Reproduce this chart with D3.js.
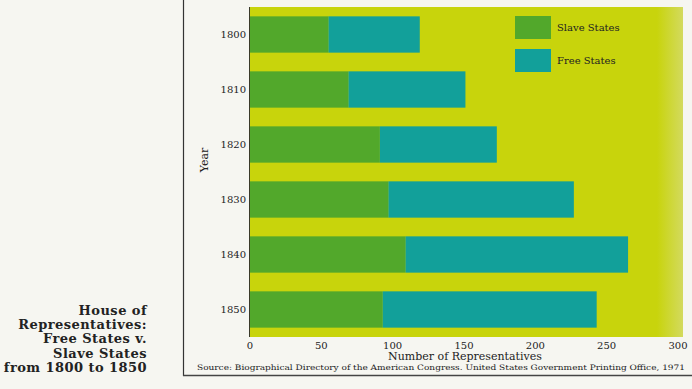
<!DOCTYPE html>
<html>
<head>
<meta charset="utf-8">
<script src="https://cdn.jsdelivr.net/npm/d3@7"></script>
<style>
  body { margin: 0; background: #f6f6f1; }
  svg { display: block; }
  text { font-family: "DejaVu Serif", "Liberation Serif", serif; fill: #222; }
</style>
</head>
<body>
<div id="chart"></div>
<script>
// values
let years = ["1800", "1810", "1820", "1830", "1840", "1850"];
let slaveStates = [55, 69, 91, 97, 109, 93];
let freeStates = [64, 82, 82, 130, 156, 150];
let xTicks = [0, 50, 100, 150, 200, 250, 300];
let titleLines = ["House of", "Representatives:", "Free States v.", "Slave States", "from 1800 to 1850"];

let svgWidth = 692;
let svgHeight = 389;

let colors = {
    bg: "#c8d40c",
    slave: "#52a82b",
    free: "#12a09a"
};

let svg = d3.select("#chart")
    .append("svg")
    .attr("width", svgWidth)
    .attr("height", svgHeight);

// plot area
let plot = { left: 249, right: 683, top: 7, bottom: 337 };

let xScale = d3.scaleLinear()
    .domain([0, 300])
    .range([250, 678]);

let yScale = d3.scaleBand()
    .domain(years)
    .range([plot.top, plot.bottom])
    .paddingInner(0.34)
    .paddingOuter(0.17);

// frame lines
svg.append("line")
    .attr("x1", 183.5).attr("x2", 183.5)
    .attr("y1", 0).attr("y2", 376)
    .attr("stroke", "#333").attr("stroke-width", 1.2);

svg.append("line")
    .attr("x1", 183).attr("x2", svgWidth)
    .attr("y1", 375.5).attr("y2", 375.5)
    .attr("stroke", "#444").attr("stroke-width", 1.6);

// yellow background with a faded right edge
let grad = svg.append("defs").append("linearGradient")
    .attr("id", "fade")
    .attr("x1", "0%").attr("x2", "100%");
grad.append("stop").attr("offset", "94%").attr("stop-color", colors.bg);
grad.append("stop").attr("offset", "100%").attr("stop-color", "#d3da5e");

svg.append("rect")
    .attr("x", plot.left)
    .attr("y", plot.top)
    .attr("width", plot.right - plot.left)
    .attr("height", plot.bottom - plot.top)
    .attr("fill", "url(#fade)");

svg.append("line")
    .attr("x1", plot.left + 0.5).attr("x2", plot.left + 0.5)
    .attr("y1", plot.top).attr("y2", plot.bottom)
    .attr("stroke", "#3a3a2a").attr("stroke-width", 1);

// bars
let rows = years.map((y, i) => ({ year: y, slave: slaveStates[i], free: freeStates[i] }));

svg.selectAll(".slave")
    .data(rows)
    .enter()
    .append("rect")
    .attr("class", "slave")
    .attr("x", xScale(0))
    .attr("y", d => yScale(d.year))
    .attr("width", d => xScale(d.slave) - xScale(0))
    .attr("height", yScale.bandwidth())
    .attr("fill", colors.slave);

svg.selectAll(".free")
    .data(rows)
    .enter()
    .append("rect")
    .attr("class", "free")
    .attr("x", d => xScale(d.slave))
    .attr("y", d => yScale(d.year))
    .attr("width", d => xScale(d.slave + d.free) - xScale(d.slave))
    .attr("height", yScale.bandwidth())
    .attr("fill", colors.free);

// y labels
svg.selectAll(".yearLabel")
    .data(years)
    .enter()
    .append("text")
    .attr("class", "yearLabel")
    .attr("x", 246)
    .attr("y", d => yScale(d) + yScale.bandwidth() / 2)
    .attr("dy", "0.35em")
    .attr("text-anchor", "end")
    .attr("font-size", "10px")
    .text(d => d);

svg.append("text")
    .attr("transform", "translate(208, 160) rotate(-90)")
    .attr("text-anchor", "middle")
    .attr("font-size", "11px")
    .text("Year");

// x axis labels
svg.selectAll(".xTick")
    .data(xTicks)
    .enter()
    .append("text")
    .attr("class", "xTick")
    .attr("x", d => xScale(d))
    .attr("y", 349)
    .attr("text-anchor", "middle")
    .attr("font-size", "10px")
    .text(d => d);

svg.append("text")
    .attr("x", 465)
    .attr("y", 360)
    .attr("text-anchor", "middle")
    .attr("font-size", "11px")
    .text("Number of Representatives");

svg.append("text")
    .attr("x", 197)
    .attr("y", 370)
    .attr("font-size", "7.5px")
    .attr("textLength", 488)
    .attr("lengthAdjust", "spacingAndGlyphs")
    .text("Source: Biographical Directory of the American Congress. United States Government Printing Office, 1971");

// legend
let legend = [
    { label: "Slave States", color: colors.slave },
    { label: "Free States", color: colors.free }
];

let lg = svg.selectAll(".legend")
    .data(legend)
    .enter()
    .append("g")
    .attr("transform", (d, i) => `translate(515, ${16 + i * 33})`);

lg.append("rect")
    .attr("width", 36)
    .attr("height", 23)
    .attr("fill", d => d.color);

lg.append("text")
    .attr("x", 42)
    .attr("y", 11)
    .attr("dy", "0.35em")
    .attr("font-size", "10px")
    .attr("fill", "#333")
    .text(d => d.label);

// title, bottom left
svg.selectAll(".title")
    .data(titleLines)
    .enter()
    .append("text")
    .attr("x", 147)
    .attr("y", (d, i) => 315 + i * 14.2)
    .attr("text-anchor", "end")
    .attr("font-size", "13px")
    .attr("font-weight", "bold")
    .attr("letter-spacing", "0.45px")
    .attr("fill", "#2a2a2a")
    .text(d => d);
</script>
</body>
</html>
